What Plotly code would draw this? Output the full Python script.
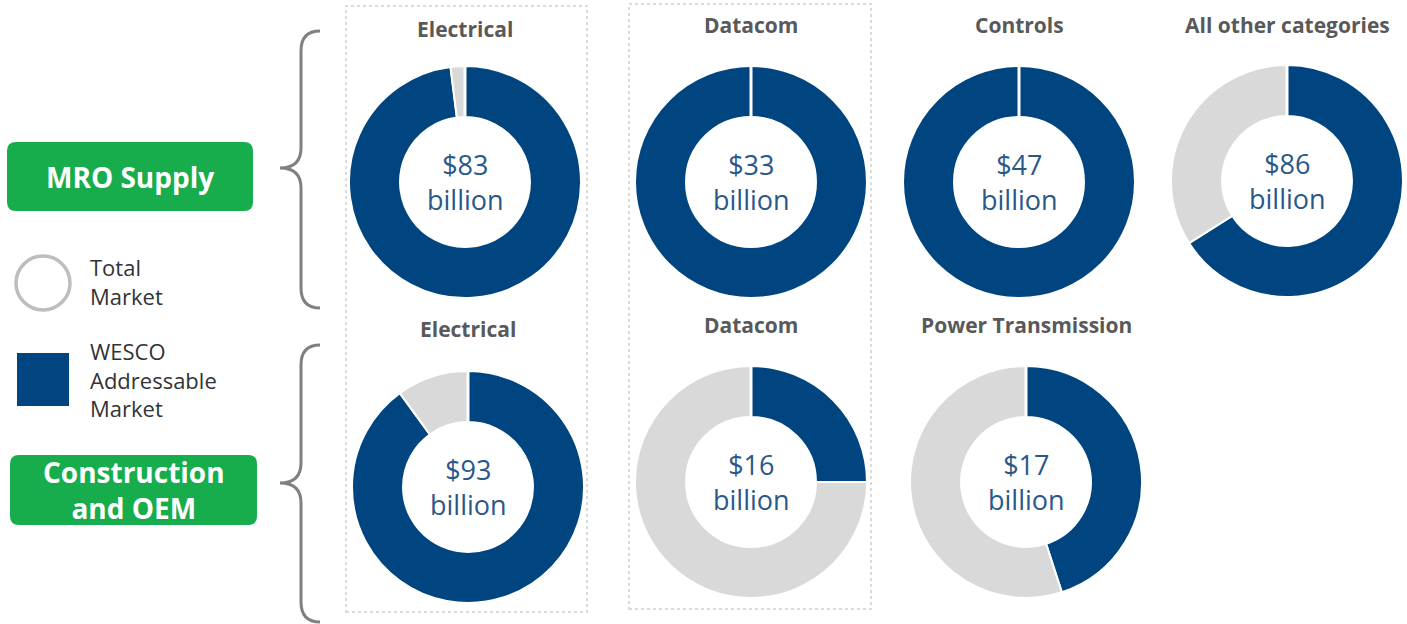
import plotly.graph_objects as go

W, H = 1407, 624

# Market donuts: title, total market size ($B), WESCO addressable share (%)
titles = ["Electrical", "Datacom", "Controls", "All other categories",
          "Electrical", "Datacom", "Power Transmission"]
market_billions = [83, 33, 47, 86, 93, 16, 17]
addressable_pct = [98, 100, 100, 66, 90, 25, 45]

segment_labels = ["MRO Supply", "Construction<br>and OEM"]
legend_labels = ["Total<br>Market", "WESCO<br>Addressable<br>Market"]

BLUE = "#00457f"
GREY = "#d9d9d9"
TEXT_BLUE = "#2a5889"
GREEN = "#17ad4c"

# pixel layout of each donut (center x, center y, outer radius)
centers = [(465, 182), (751, 182), (1019, 182), (1287, 181),
           (468, 487), (751, 482), (1026, 482)]
R = 116
HOLE = 0.56
title_y = [29, 25, 25, 25, 329, 325, 325]


def px(x):
    return x / W


def py(y):
    return 1 - y / H


fig = go.Figure()
shapes = []

for i, (t, v, p) in enumerate(zip(titles, market_billions, addressable_pct)):
    cx, cy = centers[i]
    fig.add_trace(go.Pie(
        values=[p, 100 - p],
        labels=["WESCO Addressable Market", "Total Market"],
        marker=dict(colors=[BLUE, GREY], line=dict(color="white", width=2)),
        hole=HOLE,
        sort=False,
        direction="clockwise",
        rotation=0,
        textinfo="none",
        hoverinfo="label+percent",
        showlegend=False,
        domain=dict(x=[px(cx - R), px(cx + R)], y=[py(cy + R), py(cy - R)]),
    ))
    # white seam at 12 o'clock where the ring starts
    shapes.append(dict(type="line", xref="paper", yref="paper",
                       x0=px(cx), x1=px(cx), y0=py(cy - R * HOLE + 2), y1=py(cy - R - 2),
                       line=dict(color="white", width=3)))
    fig.add_annotation(
        x=px(cx), y=py(cy), xref="paper", yref="paper",
        text=f"${v}<br>billion", showarrow=False,
        font=dict(family="Open Sans", size=27, color=TEXT_BLUE),
        xanchor="center", yanchor="middle", align="center",
    )
    fig.add_annotation(
        x=px(cx), y=py(title_y[i]), xref="paper", yref="paper",
        text=f"<b>{t}</b>", showarrow=False,
        font=dict(family="Open Sans", size=21, color="#595959"),
        xanchor="center", yanchor="middle",
    )

# dotted frames around the two left columns
for x0, y0, x1, y1 in [(346, 6, 587, 612), (629, 4, 871, 609)]:
    shapes.append(dict(type="rect", xref="paper", yref="paper",
                       x0=px(x0), x1=px(x1), y0=py(y1), y1=py(y0),
                       line=dict(color="#cfcfcf", width=1.5, dash="dot")))


def brace(top, tip, bottom, x_end=320, x_bar=301, x_tip=280):
    c = 20
    path = (f"M{px(x_end)},{py(top)} "
            f"Q{px(x_bar)},{py(top)} {px(x_bar)},{py(top + c)} "
            f"L{px(x_bar)},{py(tip - c)} "
            f"Q{px(x_bar)},{py(tip)} {px(x_tip)},{py(tip)} "
            f"Q{px(x_bar)},{py(tip)} {px(x_bar)},{py(tip + c)} "
            f"L{px(x_bar)},{py(bottom - c)} "
            f"Q{px(x_bar)},{py(bottom)} {px(x_end)},{py(bottom)}")
    return dict(type="path", xref="paper", yref="paper", path=path,
                line=dict(color="#808080", width=3))


shapes.append(brace(31, 168, 308))
shapes.append(brace(345, 483, 622))


def rounded_box(x0, y0, x1, y1, r=9):
    path = (f"M{px(x0 + r)},{py(y0)} L{px(x1 - r)},{py(y0)} "
            f"Q{px(x1)},{py(y0)} {px(x1)},{py(y0 + r)} "
            f"L{px(x1)},{py(y1 - r)} "
            f"Q{px(x1)},{py(y1)} {px(x1 - r)},{py(y1)} "
            f"L{px(x0 + r)},{py(y1)} "
            f"Q{px(x0)},{py(y1)} {px(x0)},{py(y1 - r)} "
            f"L{px(x0)},{py(y0 + r)} "
            f"Q{px(x0)},{py(y0)} {px(x0 + r)},{py(y0)} Z")
    return dict(type="path", xref="paper", yref="paper", path=path,
                fillcolor=GREEN, line=dict(width=0))


boxes = [(7, 142, 253, 211), (10, 455, 257, 525)]
for (x0, y0, x1, y1), lab in zip(boxes, segment_labels):
    shapes.append(rounded_box(x0, y0, x1, y1))
    fig.add_annotation(
        x=px((x0 + x1) / 2), y=py((y0 + y1) / 2), xref="paper", yref="paper",
        text=f"<b>{lab}</b>", showarrow=False,
        font=dict(family="Open Sans", size=28, color="white"),
        xanchor="center", yanchor="middle", align="center",
    )

# legend swatches
shapes.append(dict(type="circle", xref="paper", yref="paper",
                   x0=px(16), x1=px(70), y0=py(310), y1=py(256),
                   line=dict(color="#bdbdbd", width=3.5)))
shapes.append(dict(type="rect", xref="paper", yref="paper",
                   x0=px(17), x1=px(69), y0=py(406), y1=py(353),
                   fillcolor=BLUE, line=dict(width=0)))

for lab, yc in zip(legend_labels, [281, 380]):
    fig.add_annotation(
        x=px(88), y=py(yc), xref="paper", yref="paper",
        text=lab, showarrow=False,
        font=dict(family="Open Sans", size=22, color="#333333"),
        xanchor="left", yanchor="middle", align="left",
    )

fig.update_layout(
    width=W, height=H,
    margin=dict(l=0, r=0, t=0, b=0),
    paper_bgcolor="white",
    plot_bgcolor="white",
    shapes=shapes,
    showlegend=False,
)

fig.write_html("out.html")
